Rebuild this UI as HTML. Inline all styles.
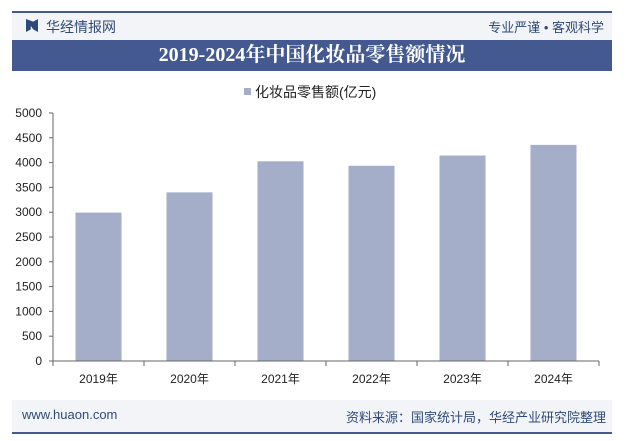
<!DOCTYPE html>
<html><head><meta charset="utf-8"><style>
body{margin:0;width:628px;height:441px;background:#fff;font-family:"Liberation Sans","Noto Sans CJK SC",sans-serif;position:relative;overflow:hidden}
.abs{position:absolute}
</style></head><body>
<div class="abs" style="left:12px;top:12px;width:600px;height:28px;background:#f3f4f8"></div>
<div class="abs" style="left:12px;top:11px;width:600px;height:2px;background:#44598f"></div>
<div class="abs" style="left:26px;top:19px;width:12px;height:13px;background:#2f4a7a;clip-path:polygon(0 0,40% 20%,40% 80%,0 100%,0 0,60% 20%,100% 0,100% 100%,60% 80%)"></div>
<div class="abs" style="left:46px;top:17px;font-size:14px;color:#2f4a7a">华经情报网</div>
<div class="abs" style="right:24px;top:17px;font-size:13px;color:#2f4a7a">专业严谨 • 客观科学</div>
<div class="abs" style="left:12px;top:40px;width:600px;height:31px;background:#44598f;color:#fff;font-family:'Liberation Serif','Noto Serif CJK SC',serif;font-weight:bold;font-size:20px;text-align:center;line-height:31px">2019-2024年中国化妆品零售额情况</div>
<div class="abs" style="left:244px;top:82px;font-size:14px;color:#222"><span style="display:inline-block;width:7px;height:7px;background:#a4aec8;margin-right:4px;vertical-align:2px"></span>化妆品零售额(亿元)</div>
<svg class="abs" style="left:0;top:0" width="628" height="441">
<g id="g"></g></svg>
<div class="abs" style="left:12px;top:400px;width:600px;height:32px;background:#f3f4f8"></div>
<div class="abs" style="left:12px;top:432px;width:600px;height:2px;background:#44598f"></div>
<div class="abs" style="left:22px;top:407px;font-size:13px;color:#2f4a7a">www.huaon.com</div>
<div class="abs" style="right:22px;top:407px;font-size:13px;color:#2f4a7a">资料来源：国家统计局，华经产业研究院整理</div>
<script>
const categories=["2019年","2020年","2021年","2022年","2023年","2024年"];
const values=[2992,3400,4026,3936,4142,4357];
const ticks=[0,500,1000,1500,2000,2500,3000,3500,4000,4500,5000];
const g=document.getElementById('g');
const ns='http://www.w3.org/2000/svg';
const x0=53,x1=599,y0=361,y1=113,max=5000;
const bw=(x1-x0)/categories.length;
const y=v=>y0-(v/max)*(y0-y1);
function el(t,a,txt){const e=document.createElementNS(ns,t);for(const k in a)e.setAttribute(k,a[k]);if(txt!=null)e.textContent=txt;g.appendChild(e);return e;}
ticks.forEach(t=>{const l=el('text',{x:42,y:y(t)+4,'text-anchor':'end','font-size':12,fill:'#222'},t);


const m=el('line',{x1:x0-4,x2:x0,y1:y(t),y2:y(t),stroke:'#666'});

});
const ya=el('line',{x1:x0,x2:x0,y1:y1,y2:y0,stroke:'#666'});


categories.forEach((c,i)=>{const cx=x0+bw*(i+0.5);
const b=el('rect',{x:cx-23,y:y(values[i]),width:46,height:y0-y(values[i]),fill:'#a4aec8'});


const l=el('text',{x:cx,y:y0+22,'text-anchor':'middle','font-size':12,fill:'#222'},c);

});
for(let i=0;i<=categories.length;i++){const tx=x0+bw*i;const t=el('line',{x1:tx,x2:tx,y1:y0,y2:y0+5,stroke:'#666'});

}
const xa=el('line',{x1:x0,x2:x1,y1:y0,y2:y0,stroke:'#666'});


</script>
</body></html>
